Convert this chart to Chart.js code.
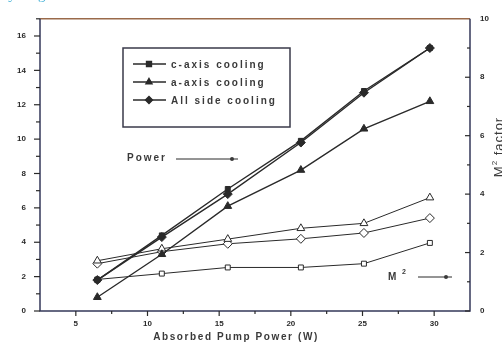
<!DOCTYPE html>
<html>
<head>
<meta charset="utf-8">
<script src="https://cdn.jsdelivr.net/npm/chart.js@4/dist/chart.umd.min.js"></script>
<style>
  html, body { margin: 0; padding: 0; background: #fff; }
  #wrap { position: relative; width: 502px; height: 343px; }
</style>
</head>
<body>
<div id="wrap"><canvas id="chart"></canvas></div>
<script>
// absorbed pump power (W)
const pumpPower = [6.5, 11.0, 15.6, 20.7, 25.1, 29.7];

// output power, left axis
const powerC = [1.8, 4.4, 7.1, 9.9, 12.8, 15.3];
const powerA = [0.8, 3.3, 6.1, 8.2, 10.6, 12.2];
const powerAll = [1.8, 4.3, 6.8, 9.8, 12.7, 15.3];

// M2 factor, right axis
const m2C = [1.08, 1.28, 1.49, 1.49, 1.62, 2.33];
const m2A = [1.72, 2.13, 2.46, 2.83, 3.0, 3.88];
const m2All = [1.62, 2.03, 2.3, 2.47, 2.67, 3.18];

const seriesLabels = ['c-axis cooling', 'a-axis cooling', 'All side cooling'];
const ink = '#2a2a2a';

function pts(ys) {
    return pumpPower.map((x, i) => ({ x: x, y: ys[i] }));
}

function powerSet(label, ys, style, r) {
    return {
        label: label, data: pts(ys), yAxisID: 'y',
        borderColor: ink, backgroundColor: ink, borderWidth: 1.4,
        pointStyle: style, pointRadius: r, pointBackgroundColor: ink,
        pointBorderColor: ink, pointBorderWidth: 1
    };
}

function m2Set(label, ys, style, r) {
    return {
        label: label, data: pts(ys), yAxisID: 'y2',
        borderColor: ink, backgroundColor: '#fff', borderWidth: 1,
        pointStyle: style, pointRadius: r, pointBackgroundColor: '#fff',
        pointBorderColor: ink, pointBorderWidth: 1
    };
}

const frameAndNotes = {
    id: 'frameAndNotes',
    afterDraw(chart) {
        const ctx = chart.ctx;
        const a = chart.chartArea;
        const sx = chart.scales.x, sy = chart.scales.y, sy2 = chart.scales.y2;
        ctx.save();

        // frame
        ctx.lineWidth = 1.5;
        ctx.strokeStyle = '#9a6a4a';
        ctx.beginPath(); ctx.moveTo(a.left, a.top); ctx.lineTo(a.right, a.top); ctx.stroke();
        ctx.strokeStyle = '#34385a';
        ctx.beginPath();
        ctx.moveTo(a.left, a.top); ctx.lineTo(a.left, a.bottom); ctx.lineTo(a.right, a.bottom);
        ctx.lineTo(a.right, a.top);
        ctx.stroke();

        // tick marks
        ctx.strokeStyle = ink;
        ctx.lineWidth = 1.2;
        sy.ticks.forEach(t => {
            const p = sy.getPixelForValue(t.value);
            const len = t.value % 2 === 0 ? 6 : 4;
            ctx.beginPath(); ctx.moveTo(a.left - len, p); ctx.lineTo(a.left, p); ctx.stroke();
        });
        sy2.ticks.forEach(t => {
            if (t.value === sy2.max) return;
            const p = sy2.getPixelForValue(t.value);
            const len = t.value % 2 === 0 ? 5 : 3;
            ctx.beginPath(); ctx.moveTo(a.right - len, p); ctx.lineTo(a.right, p); ctx.stroke();
        });
        sx.ticks.forEach(t => {
            if (t.value <= sx.min || t.value >= sx.max) return;
            const p = sx.getPixelForValue(t.value);
            const len = t.value % 5 === 0 ? 5 : 3;
            ctx.beginPath(); ctx.moveTo(p, a.bottom); ctx.lineTo(p, a.bottom + len); ctx.stroke();
        });

        // legend box
        ctx.lineWidth = 1.5;
        ctx.strokeStyle = '#3a3a4a';
        ctx.strokeRect(123, 48, 167, 79);
        const legendY = [64, 82, 100];
        const ds = chart.data.datasets;
        ctx.font = 'bold 10px "Liberation Sans", Arial, sans-serif';
        ctx.letterSpacing = '2px';
        ctx.textBaseline = 'middle';
        ctx.fillStyle = '#3a3a3a';
        legendY.forEach((y, i) => {
            ctx.strokeStyle = ink;
            ctx.lineWidth = 1.4;
            ctx.beginPath(); ctx.moveTo(133, y); ctx.lineTo(166, y); ctx.stroke();
            Chart.helpers.drawPoint(ctx, {
                pointStyle: ds[i].pointStyle, radius: 3.5, borderWidth: 1
            }, 149, y);
            ctx.fillStyle = ink;
            ctx.fill();
            ctx.fillStyle = '#3a3a3a';
            ctx.fillText(seriesLabels[i], 171, y + 1);
        });

        // "Power" and "M2" pointers
        ctx.fillText('Power', 127, 158);
        ctx.lineWidth = 1;
        ctx.beginPath(); ctx.moveTo(176, 159); ctx.lineTo(238, 159); ctx.stroke();
        ctx.beginPath(); ctx.arc(232, 159, 2, 0, Math.PI * 2); ctx.fill();
        ctx.fillText('M', 388, 277);
        ctx.font = 'bold 7px "Liberation Sans", Arial, sans-serif';
        ctx.letterSpacing = '0px';
        ctx.fillText('2', 402, 272);
        ctx.beginPath(); ctx.moveTo(418, 277); ctx.lineTo(452, 277); ctx.stroke();
        ctx.beginPath(); ctx.arc(446, 277, 2, 0, Math.PI * 2); ctx.fill();

        // x axis title
        ctx.font = 'bold 10px "Liberation Sans", Arial, sans-serif';
        ctx.letterSpacing = '1.6px';
        ctx.textAlign = 'center';
        ctx.fillText('Absorbed Pump Power (W)', 236, 337);

        // right axis title, rotated, partly cut by the edge
        ctx.translate(503, 147);
        ctx.rotate(-Math.PI / 2);
        ctx.textAlign = 'left';
        ctx.textBaseline = 'alphabetic';
        ctx.letterSpacing = '1px';
        ctx.font = '13px "Liberation Sans", Arial, sans-serif';
        const wM = ctx.measureText('M').width;
        const wRest = ctx.measureText(' factor').width;
        ctx.font = '8px "Liberation Sans", Arial, sans-serif';
        const w2 = ctx.measureText('2').width;
        let x0 = -(wM + w2 + wRest) / 2;
        ctx.font = '13px "Liberation Sans", Arial, sans-serif';
        ctx.fillText('M', x0, 0);
        ctx.font = '8px "Liberation Sans", Arial, sans-serif';
        ctx.fillText('2', x0 + wM, -6);
        ctx.font = '13px "Liberation Sans", Arial, sans-serif';
        ctx.fillText(' factor', x0 + wM + w2, 0);
        ctx.restore();

        // cut-off caption at the very top
        ctx.save();
        ctx.font = '15px "Liberation Serif", serif';
        ctx.fillStyle = '#4ab4d8';
        ctx.textBaseline = 'alphabetic';
        ctx.fillText('ity length was 35 mm.', 0, -1);
        ctx.restore();
    }
};

const tickFont = { family: '"Liberation Sans", Arial, sans-serif', size: 8, weight: 'bold' };

new Chart(document.getElementById('chart'), {
    type: 'line',
    data: {
        datasets: [
            powerSet(seriesLabels[0], powerC, 'rect', 3.5),
            powerSet(seriesLabels[1], powerA, 'triangle', 4.5),
            powerSet(seriesLabels[2], powerAll, 'rectRot', 4.5),
            m2Set('c-axis M2', m2C, 'rect', 3.5),
            m2Set('a-axis M2', m2A, 'triangle', 4.5),
            m2Set('All side M2', m2All, 'rectRot', 4.5)
        ]
    },
    options: {
        responsive: true,
        maintainAspectRatio: false,
        animation: false,
        layout: { padding: { top: 16, left: 0, right: 0, bottom: 0 } },
        plugins: { legend: { display: false }, tooltip: { enabled: false } },
        scales: {
            x: {
                type: 'linear', min: 2.5, max: 32.5,
                grid: { display: false, drawTicks: false }, border: { display: false },
                ticks: {
                    stepSize: 2.5, autoSkip: false, maxRotation: 0, padding: 8,
                    color: ink, font: tickFont,
                    callback: v => (v % 5 === 0 && v > 2.5 && v < 32.5) ? v : ''
                },
                afterFit: s => { s.height = 32; }
            },
            y: {
                position: 'left', min: 0, max: 17,
                grid: { display: false, drawTicks: false }, border: { display: false },
                ticks: {
                    stepSize: 1, autoSkip: false, padding: 14,
                    color: ink, font: tickFont,
                    callback: v => v % 2 === 0 ? v : ''
                },
                afterFit: s => { s.width = 40; }
            },
            y2: {
                position: 'right', min: 0, max: 10,
                grid: { display: false, drawTicks: false }, border: { display: false },
                ticks: {
                    stepSize: 1, autoSkip: false, padding: 10,
                    color: ink, font: tickFont,
                    callback: v => v % 2 === 0 ? v : ''
                },
                afterFit: s => { s.width = 32; }
            }
        }
    },
    plugins: [frameAndNotes]
});
</script>
</body>
</html>
